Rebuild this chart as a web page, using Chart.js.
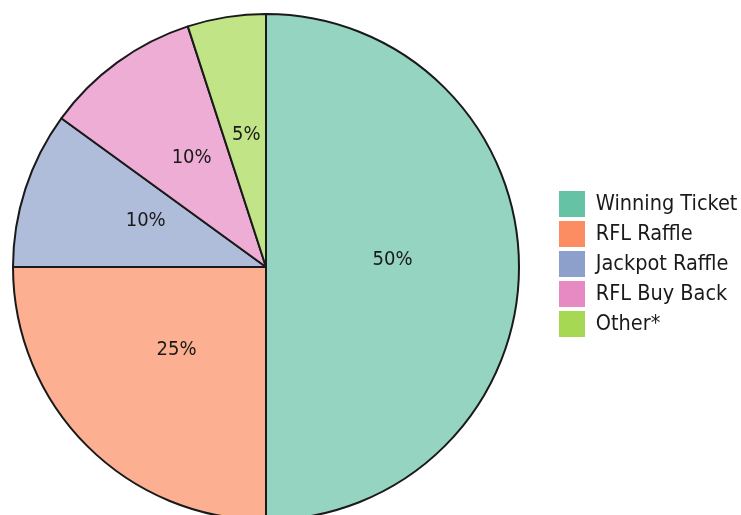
<!DOCTYPE html>
<html>
<head>
<meta charset="utf-8">
<script src="https://cdn.jsdelivr.net/npm/chart.js@4/dist/chart.umd.min.js"></script>
<style>
  html, body { margin: 0; padding: 0; background: #fff; overflow: hidden; }
  body { width: 741px; height: 515px; position: relative; }
  #wrap { position: absolute; left: -23px; top: 0; width: 764px; height: 534px; }
</style>
</head>
<body>
<div id="wrap"><canvas id="pie"></canvas></div>
<script>
// Ticket sales split
const categories = ['Winning Ticket', 'RFL Raffle', 'Jackpot Raffle', 'RFL Buy Back', 'Other*'];
const shares = [50, 25, 10, 10, 5];
const sliceLabels = ['50%', '25%', '10%', '10%', '5%'];

const baseColors = ['#66c2a5', '#fc8d62', '#8da0cb', '#e78ac3', '#a6d854'];
const fillColors = ['#94d4c0', '#fdaf91', '#afbddb', '#eeadd5', '#c1e487'];
const FONT = "'DejaVu Sans Condensed', 'DejaVu Sans', sans-serif";

// percentage text in the middle of each slice
const sliceText = {
    id: 'sliceText',
    afterDatasetsDraw(chart) {
        const ctx = chart.ctx;
        const meta = chart.getDatasetMeta(0);
        ctx.save();
        ctx.font = '20px ' + FONT;
        ctx.fillStyle = '#1a1a1a';
        ctx.textAlign = 'center';
        ctx.textBaseline = 'middle';
        meta.data.forEach((arc, i) => {
            const p = arc.getCenterPoint();
            ctx.fillText(sliceLabels[i], p.x, p.y - 7);
        });
        ctx.restore();
    }
};

// nudge the legend block up a little
const legendNudge = {
    id: 'legendNudge',
    afterLayout(chart) {
        if (chart.legend) {
            chart.legend.top -= 3;
            chart.legend.bottom -= 3;
        }
    }
};

new Chart(document.getElementById('pie'), {
    type: 'pie',
    data: {
        labels: categories,
        datasets: [{
            data: shares,
            backgroundColor: fillColors,
            borderColor: '#1a1a1a',
            borderWidth: 2
        }]
    },
    options: {
        responsive: true,
        maintainAspectRatio: false,
        animation: false,
        layout: { padding: { left: 0, right: 0, top: 13, bottom: 13 } },
        plugins: {
            tooltip: { enabled: false },
            legend: {
                position: 'right',
                maxWidth: 186,
                labels: {
                    boxWidth: 26,
                    boxHeight: 26,
                    padding: 4,
                    color: '#1a1a1a',
                    font: { family: FONT, size: 21.5 },
                    generateLabels: (chart) => categories.map((c, i) => ({
                        text: c,
                        fillStyle: baseColors[i],
                        strokeStyle: baseColors[i],
                        lineWidth: 0,
                        fontColor: '#1a1a1a',
                        hidden: false,
                        index: i
                    }))
                }
            }
        }
    },
    plugins: [sliceText, legendNudge]
});
</script>
</body>
</html>
